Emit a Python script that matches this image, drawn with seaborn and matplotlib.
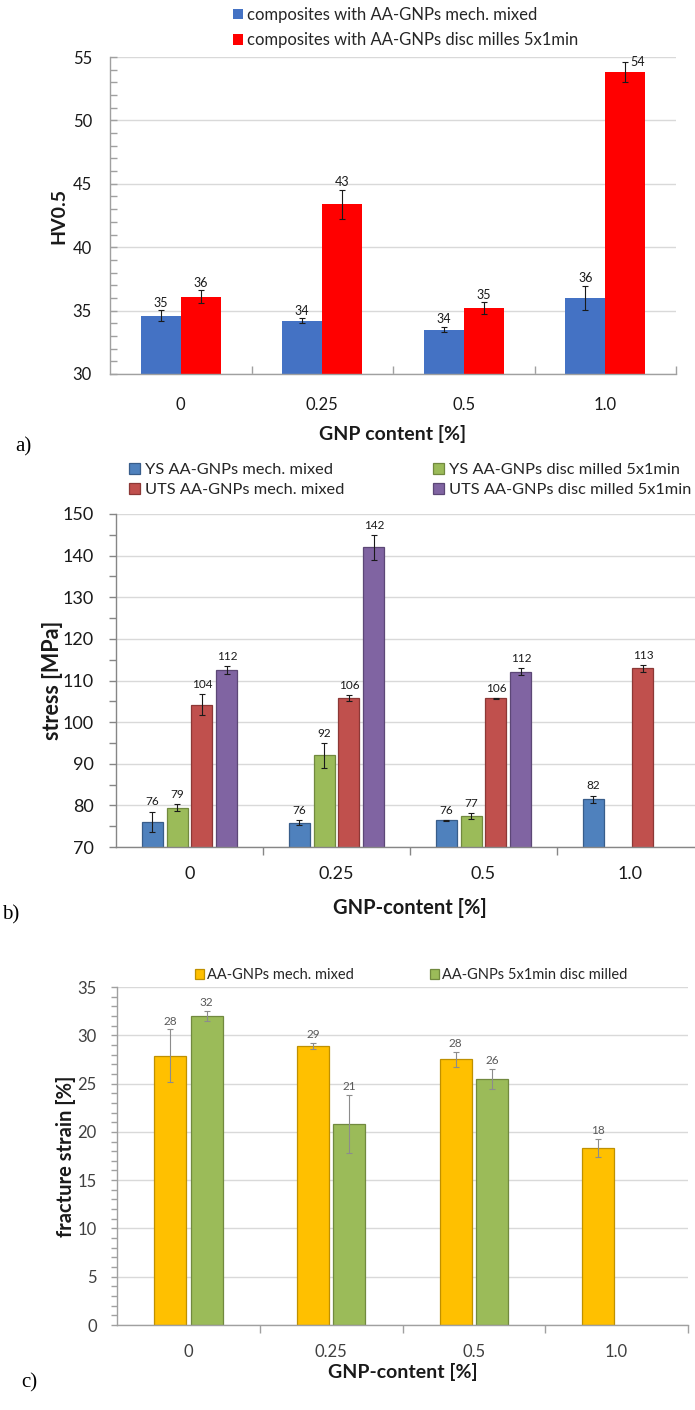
import numpy as np
import pandas as pd
import matplotlib
matplotlib.use("Agg")
import matplotlib.pyplot as plt
from matplotlib.ticker import MultipleLocator, FixedLocator
import seaborn as sns

gnp = ["0", "0.25", "0.5", "1.0"]

# a) hardness HV0.5
hv_series = ["composites with AA-GNPs mech. mixed",
             "composites with AA-GNPs disc milles 5x1min"]
hv_mixed = [34.6, 34.2, 33.5, 36.0]
hv_mixed_err = [0.45, 0.2, 0.22, 0.95]
hv_milled = [36.1, 43.4, 35.2, 53.8]
hv_milled_err = [0.5, 1.15, 0.45, 0.8]

# b) yield strength / tensile strength
st_series = ["YS AA-GNPs mech. mixed", "YS AA-GNPs disc milled 5x1min",
             "UTS AA-GNPs mech. mixed", "UTS AA-GNPs disc milled 5x1min"]
ys_mixed = [76.0, 75.85, 76.4, 81.5]
ys_mixed_err = [2.5, 0.6, 0.1, 0.85]
ys_milled = [79.4, 92.0, 77.4, np.nan]
ys_milled_err = [0.85, 3.0, 0.65, np.nan]
uts_mixed = [104.2, 105.7, 105.7, 112.9]
uts_mixed_err = [2.5, 0.7, 0.1, 0.8]
uts_milled = [112.5, 142.0, 112.1, np.nan]
uts_milled_err = [0.9, 3.0, 0.8, np.nan]

# c) fracture strain
fs_series = ["AA-GNPs mech. mixed", "AA-GNPs 5x1min disc milled"]
fs_mixed = [27.9, 28.9, 27.5, 18.3]
fs_mixed_err = [2.7, 0.35, 0.8, 0.95]
fs_milled = [32.0, 20.8, 25.5, np.nan]
fs_milled_err = [0.55, 3.0, 1.05, np.nan]

sns.set_style("white")
plt.rcParams["font.family"] = ["Lato", "DejaVu Sans"]

W, H = 695, 1410
fig = plt.figure(figsize=(W / 100, H / 100), dpi=100)


def axes_px(l, t, r, b):
    return fig.add_axes([l / W, 1 - b / H, (r - l) / W, (b - t) / H])


def draw_bars(ax, series, values, errors, colors, edges, width, gap,
              lab_size, lab_color, err_color, lab_off, ytop):
    df = pd.DataFrame({
        "gnp": np.tile(gnp, len(series)),
        "series": np.repeat(series, len(gnp)),
        "value": np.concatenate(values),
    })
    sns.barplot(data=df, x="gnp", y="value", hue="series", order=gnp,
                hue_order=series, palette=colors, saturation=1, width=width,
                gap=gap, errorbar=None, ax=ax)
    for cont, vals, errs, ec in zip(ax.containers, values, errors, edges):
        bars = [p for p in cont.patches if np.isfinite(p.get_height())]
        idx = [i for i, v in enumerate(vals) if np.isfinite(v)]
        for p, i in zip(bars, idx):
            if ec is None:
                p.set_linewidth(0)
            else:
                p.set_edgecolor(ec)
                p.set_linewidth(0.9)
            x = p.get_x() + p.get_width() / 2
            ax.errorbar(x, vals[i], yerr=errs[i], fmt="none", ecolor=err_color,
                        elinewidth=0.8, capsize=2, capthick=0.8, zorder=5)
            top = vals[i] + errs[i]
            txt = f"{vals[i]:.0f}"
            if top + (ytop * 0.012) > ytop:
                ax.annotate(txt, (x, top), xytext=(4, 0), textcoords="offset points",
                            ha="left", va="center", fontsize=lab_size, color=lab_color)
            else:
                ax.annotate(txt, (x, top), xytext=(0, lab_off), textcoords="offset points",
                            ha="center", va="bottom", fontsize=lab_size, color=lab_color)
    leg = ax.get_legend()
    handles = leg.legend_handles
    labels = [t.get_text() for t in leg.texts]
    leg.remove()
    for h, ec in zip(handles, edges):
        if ec is not None:
            h.set_edgecolor(ec)
            h.set_linewidth(0.9)
        else:
            h.set_linewidth(0)
    return handles, labels


def style_axes(ax, ylim, major, minor, ydir, ylen, ypad, xdir, xpad, tsize,
               tcolor, ylabel, ysize, ycoord, xlabel, xsize, xcoord,
               spine="#a0a0a0"):
    ax.set_xlim(-0.5, 3.5)
    ax.set_ylim(*ylim)
    ax.yaxis.set_major_locator(MultipleLocator(major))
    ax.yaxis.set_minor_locator(MultipleLocator(minor))
    ax.xaxis.set_minor_locator(FixedLocator([0.5, 1.5, 2.5, 3.5]))
    ax.grid(axis="y", which="major", color="#d9d9d9", lw=1)
    ax.grid(axis="x", visible=False)
    ax.set_axisbelow(True)
    for s in ["top", "right"]:
        ax.spines[s].set_visible(False)
    for s in ["left", "bottom"]:
        ax.spines[s].set_color(spine)
        ax.spines[s].set_linewidth(1)
    ax.tick_params(axis="y", which="both", direction=ydir, length=ylen,
                   color=spine, width=1, pad=ypad, labelsize=tsize,
                   labelcolor=tcolor, left=True)
    ax.tick_params(axis="x", which="major", length=0, pad=xpad,
                   labelsize=tsize, labelcolor=tcolor)
    ax.tick_params(axis="x", which="minor", direction=xdir, length=6,
                   color=spine, width=1, bottom=True)
    ax.set_ylabel(ylabel, fontsize=ysize, fontweight="bold", color="#1a1a1a")
    ax.yaxis.set_label_coords(ycoord, 0.5)
    ax.set_xlabel(xlabel, fontsize=xsize, fontweight="bold", color="#1a1a1a")
    ax.xaxis.set_label_coords(0.5, xcoord)


def legend_at(ax, handles, labels, x, y, size, hl, tp, sp):
    leg = ax.legend(handles, labels, loc="upper left",
                    bbox_to_anchor=(x / W, 1 - y / H), bbox_transform=fig.transFigure,
                    frameon=False, borderpad=0, borderaxespad=0,
                    prop={"family": ["Lato", "DejaVu Sans"], "weight": "normal",
                          "size": size},
                    handlelength=hl, handleheight=hl, handletextpad=tp,
                    labelspacing=sp)
    for t in leg.texts:
        t.set_color("#262626")
    # keep it as a plain artist so it is drawn only once
    ax.legend_ = None
    ax.add_artist(leg)
    return leg


# ---------- a) ----------
ax_a = axes_px(110, 57, 676, 374)
h, l = draw_bars(ax_a, hv_series, [hv_mixed, hv_milled],
                 [hv_mixed_err, hv_milled_err], ["#4472C4", "#FF0000"],
                 [None, None], 0.565, 0, 9, "#1a1a1a", "#1a1a1a", 1, 55)
style_axes(ax_a, (30, 55), 5, 1, "in", 5, 13, "in", 16.5, 12, "#1a1a1a",
           "HV0.5", 14, -0.076, "GNP content [%]", 14, -0.161)
legend_at(ax_a, h, l, 233, 7, 12, 0.6, 0.25, 0.55)

# ---------- b) ----------
ax_b = axes_px(116, 514, 704, 847)
h, l = draw_bars(ax_b, st_series, [ys_mixed, ys_milled, uts_mixed, uts_milled],
                 [ys_mixed_err, ys_milled_err, uts_mixed_err, uts_milled_err],
                 ["#4F81BD", "#9BBB59", "#C0504D", "#8064A2"],
                 ["#385D8A", "#71893F", "#8C3836", "#5C4776"],
                 0.68, 0.16, 8.5, "#1a1a1a", "#1a1a1a", 3, 150)
style_axes(ax_b, (70, 150), 10, 5, "out", 5, 11, "out", 14, 13, "#1a1a1a",
           "stress [MPa]", 15.5, -0.090, "GNP-content [%]", 14.5, -0.153,
           spine="#868686")
legend_at(ax_b, [h[0], h[2]], [l[0], l[2]], 129, 463, 11.8, 0.68, 0.3, 0.35)
legend_at(ax_b, [h[1], h[3]], [l[1], l[3]], 433, 463, 11.8, 0.68, 0.3, 0.35)

# ---------- c) ----------
ax_c = axes_px(117, 987, 688, 1325)
h, l = draw_bars(ax_c, fs_series, [fs_mixed, fs_milled],
                 [fs_mixed_err, fs_milled_err], ["#FFC000", "#9BBB59"],
                 ["#BF9000", "#71893F"], 0.51, 0.12, 8.5, "#595959", "#8c8c8c",
                 2, 35)
style_axes(ax_c, (0, 35), 5, 1, "out", 4, 10.5, "out", 14, 12, "#404040",
           "fracture strain [%]", 14.5, -0.072, "GNP-content [%]", 14, -0.112)
legend_at(ax_c, [h[0]], [l[0]], 195, 968, 10.5, 0.65, 0.2, 0.3)
legend_at(ax_c, [h[1]], [l[1]], 430, 968, 10.5, 0.65, 0.2, 0.3)

# panel letters
for txt, x, y in [("a)", 23, 447), ("b)", 11, 915), ("c)", 29, 1383)]:
    fig.text(x / W, 1 - y / H, txt, family=["Liberation Serif", "DejaVu Serif"],
             fontsize=15, ha="center", va="center", color="black")

fig.savefig("out.png", dpi=100)
